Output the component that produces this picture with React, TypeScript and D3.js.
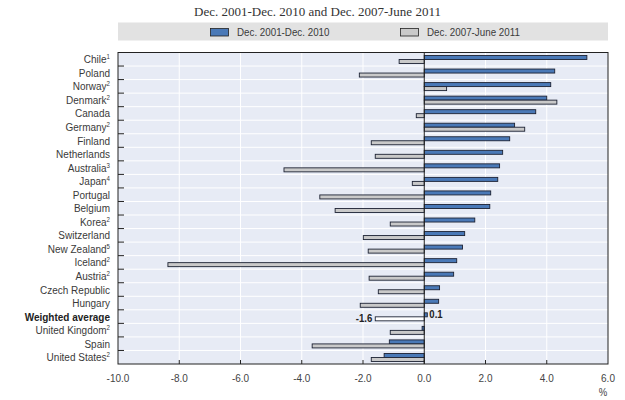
import * as d3 from "d3";
import { useEffect, useRef } from "react";

const categories = [
  "Chile", "Poland", "Norway", "Denmark", "Canada", "Germany", "Finland",
  "Netherlands", "Australia", "Japan", "Portugal", "Belgium", "Korea",
  "Switzerland", "New Zealand", "Iceland", "Austria", "Czech Republic",
  "Hungary", "Weighted average", "United Kingdom", "Spain", "United States",
];
const notes = [
  "1", "", "2", "2", "", "2", "", "", "3", "4", "", "", "2",
  "", "5", "2", "2", "", "", "", "2", "", "2",
];
const series2001 = [
  5.31, 4.26, 4.13, 4.0, 3.64, 2.95, 2.79, 2.56, 2.46, 2.4, 2.17, 2.14, 1.65,
  1.32, 1.25, 1.06, 0.96, 0.5, 0.47, 0.1, -0.07, -1.14, -1.31,
];
const series2007 = [
  -0.82, -2.12, 0.73, 4.33, -0.26, 3.28, -1.73, -1.6, -4.58, -0.39, -3.41,
  -2.91, -1.11, -1.99, -1.83, -8.37, -1.8, -1.5, -2.09, -1.6, -1.11, -3.66,
  -1.73,
];
const seriesNames = ["Dec. 2001-Dec. 2010", "Dec. 2007-June 2011"];
const xTicks = [-10, -8, -6, -4, -2, 0, 2, 4, 6];
const title = "Dec. 2001-Dec. 2010 and Dec. 2007-June 2011";

// Arial Narrow look: Liberation Sans squeezed horizontally
const sans = "'Liberation Sans', Arial, sans-serif";
const squeeze = 0.87;
const fmt = (v: number) => d3.format(".1f")(v).replace("\u2212", "-");

export default function App() {
  const svgRef = useRef<SVGSVGElement>(null);

  useEffect(() => {
    if (!svgRef.current) return;
    const svg = d3.select<SVGSVGElement, unknown>(svgRef.current);
    svg.selectAll("*").remove();

    const width = 625;
    const height = 400;
    const plot = { left: 118, right: 608, top: 52.5, bottom: 364 };

    svg.attr("width", width).attr("height", height);
    svg.append("rect").attr("width", width).attr("height", height).attr("fill", "#ffffff");

    const x = d3.scaleLinear().domain([-10, 6]).range([plot.left, plot.right]);
    const y = d3.scaleBand<string>().domain(categories).range([plot.top, plot.bottom]);
    const step = y.step();

    // narrow text helper
    const narrowText = (
      parent: d3.Selection<any, unknown, null, undefined>,
      tx: number,
      ty: number,
      str: string,
      anchor = "start",
      size = "11px",
      scale = squeeze
    ) =>
      parent
        .append("text")
        .attr("transform", `translate(${tx},${ty}) scale(${scale},1)`)
        .attr("text-anchor", anchor)
        .attr("font-family", sans)
        .attr("font-size", size)
        .attr("fill", "#3a3a3a")
        .text(str);

    // Title
    svg
      .append("text")
      .attr("x", 317.5)
      .attr("y", 16)
      .attr("text-anchor", "middle")
      .attr("font-family", "'Liberation Serif', 'DejaVu Serif', serif")
      .attr("font-size", "13px")
      .attr("fill", "#333")
      .text(title);

    // Legend
    const legend = svg.append("g");
    legend
      .append("rect")
      .attr("x", plot.left)
      .attr("y", 22.5)
      .attr("width", plot.right - plot.left)
      .attr("height", 18)
      .attr("fill", "#e2e2e2");
    const legendItems = [
      { name: seriesNames[0], fill: "#4a79b7", x: 210 },
      { name: seriesNames[1], fill: "#c9c9c9", x: 400 },
    ];
    legendItems.forEach((d) => {
      legend
        .append("rect")
        .attr("x", d.x + 0.5)
        .attr("y", 28.5)
        .attr("width", 18)
        .attr("height", 7.5)
        .attr("fill", d.fill)
        .attr("stroke", "#222")
        .attr("stroke-width", 0.8);
      narrowText(legend, d.x + 27, 36, d.name, "start", "11px", 0.89);
    });

    // Plot background
    svg
      .append("rect")
      .attr("x", plot.left)
      .attr("y", plot.top)
      .attr("width", plot.right - plot.left)
      .attr("height", plot.bottom - plot.top)
      .attr("fill", "#e7ebf5");

    const grid = svg.append("g").attr("stroke", "#ffffff").attr("stroke-width", 1);
    xTicks.slice(1, -1).forEach((t) => {
      grid.append("line").attr("x1", x(t)).attr("x2", x(t)).attr("y1", plot.top).attr("y2", plot.bottom);
    });
    categories.slice(1).forEach((c) => {
      const yy = y(c)!;
      grid.append("line").attr("x1", plot.left).attr("x2", plot.right).attr("y1", yy).attr("y2", yy);
    });

    // Bars
    const bars = svg.append("g").attr("stroke", "#1c2233").attr("stroke-width", 0.9);
    categories.forEach((c, i) => {
      const by = y(c)!;
      const v1 = series2001[i];
      const v2 = series2007[i];
      const isAvg = c === "Weighted average";
      bars
        .append("rect")
        .attr("x", x(Math.min(0, v1)))
        .attr("y", by + 3)
        .attr("width", Math.abs(x(v1) - x(0)))
        .attr("height", 4)
        .attr("fill", "#4a79b7");
      bars
        .append("rect")
        .attr("x", x(Math.min(0, v2)))
        .attr("y", by + 7)
        .attr("width", Math.abs(x(v2) - x(0)))
        .attr("height", 4)
        .attr("fill", isAvg ? "#ffffff" : "#c9c9c9");
    });

    // Value labels for the weighted average
    const avgIdx = categories.indexOf("Weighted average");
    const avgY = y(categories[avgIdx])!;
    narrowText(svg as any, x(series2001[avgIdx]) + 2, avgY + 8.5, fmt(series2001[avgIdx]))
      .attr("font-weight", "bold")
      .attr("fill", "#222");
    narrowText(svg as any, x(series2007[avgIdx]) - 3, avgY + 12.5, fmt(series2007[avgIdx]), "end")
      .attr("font-weight", "bold")
      .attr("fill", "#222");

    // Zero line
    svg
      .append("line")
      .attr("x1", x(0))
      .attr("x2", x(0))
      .attr("y1", plot.top)
      .attr("y2", plot.bottom)
      .attr("stroke", "#1c1c1c")
      .attr("stroke-width", 1);

    // Frame and ticks
    const frame = svg.append("g").attr("stroke", "#222").attr("stroke-width", 1);
    frame
      .append("rect")
      .attr("x", plot.left)
      .attr("y", plot.top)
      .attr("width", plot.right - plot.left)
      .attr("height", plot.bottom - plot.top)
      .attr("fill", "none");
    categories.slice(1).forEach((c) => {
      const yy = y(c)!;
      frame.append("line").attr("x1", plot.left).attr("x2", plot.left + 6).attr("y1", yy).attr("y2", yy);
    });
    xTicks.slice(1, -1).forEach((t) => {
      frame.append("line").attr("x1", x(t)).attr("x2", x(t)).attr("y1", plot.bottom).attr("y2", plot.bottom - 4);
    });

    // X tick labels
    const xLabels = svg.append("g");
    xTicks.forEach((t) => {
      narrowText(xLabels, x(t), 382, fmt(t), "middle", "11.5px").attr("fill", "#444");
    });
    narrowText(svg as any, 603, 396, "%", "middle", "11px").attr("fill", "#444");

    // Category labels
    const catG = svg.append("g");
    categories.forEach((c, i) => {
      const isAvg = c === "Weighted average";
      const t = narrowText(catG, 110, y(c)! + step / 2 + 4, "", "end", "11.5px")
        .attr("font-weight", isAvg ? "bold" : "normal")
        .attr("fill", isAvg ? "#222" : "#3a3a3a");
      t.append("tspan").text(c);
      if (notes[i]) {
        t.append("tspan").attr("dy", -4).attr("font-size", "7px").text(notes[i]);
      }
    });
  }, []);

  return <svg ref={svgRef} style={{ position: "absolute", left: 0, top: 0 }}></svg>;
}
